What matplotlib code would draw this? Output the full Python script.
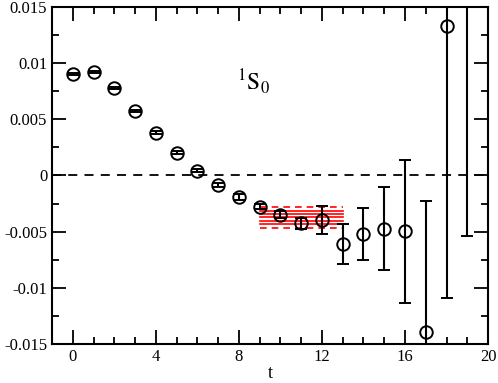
import numpy as np
import matplotlib as mpl
import matplotlib.pyplot as plt
from matplotlib.ticker import MultipleLocator

mpl.rcParams['font.family'] = 'serif'
mpl.rcParams['font.serif'] = ['Liberation Serif', 'DejaVu Serif']
mpl.rcParams['mathtext.fontset'] = 'stix'

# data
t = [0, 1, 2, 3, 4, 5, 6, 7, 8, 9, 10, 11, 12, 13, 14, 15, 16, 17, 18, 19]
val = [0.00903, 0.00920, 0.00778, 0.00577, 0.00380, 0.00203, 0.00043, -0.00085,
       -0.00194, -0.00278, -0.00350, -0.00425, -0.00396, -0.00612, -0.00518,
       -0.00473, -0.00497, -0.01396, 0.01331, 0.0200]
err = [0.00008, 0.00008, 0.00010, 0.00010, 0.00012, 0.00012, 0.00015, 0.00020,
       0.00025, 0.00020, 0.00030, 0.00050, 0.00123, 0.00176, 0.00230,
       0.00370, 0.00635, 0.01170, 0.02420, 0.02540]

fit_t = [9, 13]
fit_mid = -0.00372
fit_err = 0.00095
fit_lines = [-0.0006, -0.0003, 0.0, 0.0003, 0.0006]

fig = plt.figure(figsize=(4.98, 3.83), dpi=100)
ax = fig.add_axes([0.1044, 0.1018, 0.8756, 0.88])

ax.axhline(0, color='k', lw=1.3, ls=(0, (5, 4)), zorder=1)

for off in fit_lines:
    ax.plot(fit_t, [fit_mid + off] * 2, color='red', lw=1.2, zorder=2)
for s in (-1, 1):
    ax.plot(fit_t, [fit_mid + s * fit_err] * 2, color='red', lw=1.2,
            ls=(0, (4, 3)), zorder=2)

ax.errorbar(t, val, yerr=err, fmt='o', ms=9, mfc='none', mec='k', mew=1.4,
            ecolor='k', elinewidth=1.5, capsize=4, capthick=1.5, zorder=3)

ax.text(7.9, 0.0076, r'$^{1}\mathrm{S}_{0}$', fontsize=17)

ax.set_xlim(-1, 20)
ax.set_ylim(-0.015, 0.015)
ax.xaxis.set_major_locator(MultipleLocator(4))
ax.xaxis.set_minor_locator(MultipleLocator(1))
ax.yaxis.set_major_locator(MultipleLocator(0.005))
ax.yaxis.set_minor_locator(MultipleLocator(0.0025))
ax.yaxis.set_major_formatter(mpl.ticker.FuncFormatter(lambda v, p: '0' if abs(v) < 1e-12 else ('%g' % v)))
ax.tick_params(which='both', direction='in', top=True, right=True, width=1.3, labelsize=12)
ax.tick_params(which='major', length=10)
ax.tick_params(which='minor', length=5)
for sp in ax.spines.values():
    sp.set_linewidth(1.5)
ax.set_xlabel('t', fontsize=13, labelpad=0)

plt.savefig('out.png', dpi=100)
